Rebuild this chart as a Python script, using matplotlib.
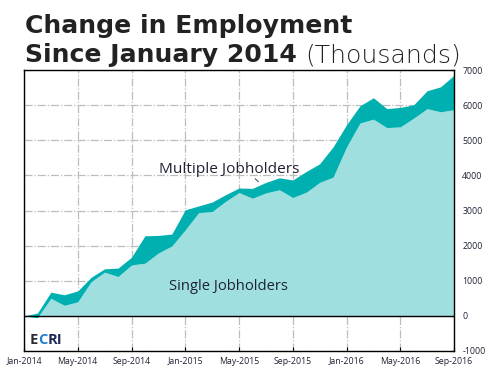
import matplotlib
matplotlib.use("Agg")
import matplotlib.pyplot as plt
import numpy as np

months = ["Jan-2014", "Feb-2014", "Mar-2014", "Apr-2014", "May-2014", "Jun-2014", "Jul-2014", "Aug-2014",
          "Sep-2014", "Oct-2014", "Nov-2014", "Dec-2014", "Jan-2015", "Feb-2015", "Mar-2015", "Apr-2015",
          "May-2015", "Jun-2015", "Jul-2015", "Aug-2015", "Sep-2015", "Oct-2015", "Nov-2015", "Dec-2015",
          "Jan-2016", "Feb-2016", "Mar-2016", "Apr-2016", "May-2016", "Jun-2016", "Jul-2016", "Aug-2016",
          "Sep-2016"]

total_employment = [0, 80, 675, 600, 710, 1100, 1340, 1360, 1670, 2280, 2290, 2330, 3020, 3130, 3240, 3450,
                    3640, 3630, 3800, 3930, 3870, 4110, 4330, 4810, 5440, 5980, 6210, 5900, 5935, 6010,
                    6410, 6520, 6850]
single_jobholders = [0, -50, 500, 300, 400, 975, 1245, 1120, 1450, 1500, 1790, 1990, 2450, 2940, 2970, 3260,
                     3510, 3350, 3500, 3590, 3370, 3520, 3800, 3950, 4810, 5490, 5600, 5360, 5380, 5630,
                     5900, 5810, 5870]

xtick_labels = ["Jan-2014", "May-2014", "Sep-2014", "Jan-2015", "May-2015", "Sep-2015", "Jan-2016",
                "May-2016", "Sep-2016"]
ytick_values = [-1000, 0, 1000, 2000, 3000, 4000, 5000, 6000, 7000]

FONT = "Open Sans"
TFONT = "DejaVu Sans"
TXT = "#1f2233"
LIGHT = "#9fdfe0"
DARK = "#00b0b0"

fig = plt.figure(figsize=(4.95, 3.75), dpi=100)
W, H = 495, 375
ax = fig.add_axes([24 / W, 1 - 351 / H, (454 - 24) / W, (351 - 70) / H])

x = np.arange(len(months))
tot = np.array(total_employment, dtype=float)
sgl = np.array(single_jobholders, dtype=float)

ax.fill_between(x, 0, sgl, color=LIGHT, lw=0, zorder=2)
ax.fill_between(x, sgl, tot, color=DARK, lw=0, zorder=2)

ax.set_xlim(0, len(months) - 1)
ax.set_ylim(-1000, 7000)

xt = [months.index(m) for m in xtick_labels]
ax.set_xticks(xt)
ax.set_xticklabels(xtick_labels, fontsize=6.3, color=TXT, family=FONT)
ax.set_yticks(ytick_values)
ax.set_yticklabels([str(v) for v in ytick_values], fontsize=6.3, color=TXT, family=FONT)
ax.yaxis.tick_right()
ax.tick_params(axis="y", direction="in", length=3, width=0.8, pad=6, right=True, left=False)
ax.tick_params(axis="x", direction="in", length=3, width=0.8, pad=4)

ax.grid(True, color="#bdbdbd", linestyle="-.", linewidth=0.9, zorder=1)
ax.set_axisbelow(True)
ax.axhline(0, color="black", lw=1.0, zorder=3)
for s in ax.spines.values():
    s.set_linewidth(1.0)
    s.set_color("black")
    s.set_zorder(4)

fig.canvas.draw()
r = fig.canvas.get_renderer()


def fit(t, target_px):
    bb = t.get_window_extent(renderer=r)
    t.set_fontsize(t.get_fontsize() * target_px / bb.width)


tm = ax.text(15.3, 4160, "Multiple Jobholders", fontsize=10, color=TXT, family=FONT,
             ha="center", va="center", zorder=5)
fit(tm, 140)
ax.annotate("", xy=(17.6, 3760), xytext=(17.05, 3960),
            arrowprops=dict(arrowstyle="-", color=TXT, lw=0.6), zorder=5)
ts = ax.text(15.25, 826, "Single Jobholders", fontsize=10, color=TXT, family=FONT,
             ha="center", va="center", zorder=5)
fit(ts, 118)

# ECRI logo text
ex, ey = 0.45, -690


def after(t):
    bb = t.get_window_extent(renderer=r)
    return ax.transData.inverted().transform((bb.x1, bb.y0))[0]


t1 = ax.text(ex, ey, "E", fontsize=10.5, fontweight="bold", color="#2b2b33", family=FONT, va="center", zorder=5)
t2 = ax.text(after(t1), ey, "C", fontsize=10.5, fontweight="bold", color="#1f7fd0", family=FONT, va="center", zorder=5)
t3 = ax.text(after(t2), ey, "RI", fontsize=10.5, fontweight="bold", color="#1d2a55", family=FONT, va="center", zorder=5)

# Title
l1 = fig.text(25 / W, 1 - 33 / H, "Change in Employment", fontsize=20, fontweight="bold", color="#222222",
              family=TFONT, ha="left", va="baseline")
fit(l1, 327)
fs = l1.get_fontsize()
tA = fig.text(25 / W, 1 - 62 / H, "Since January 2014 ", fontsize=fs, fontweight="bold", color="#222222",
              family=TFONT, ha="left", va="baseline")
bb = tA.get_window_extent(renderer=r)
tB = fig.text(bb.x1 / fig.bbox.width, 1 - 62 / H, "(Thousands)", fontsize=fs, fontweight="light",
              color="#222222", family=TFONT, ha="left", va="baseline")

fig.savefig("out.png", dpi=100)
